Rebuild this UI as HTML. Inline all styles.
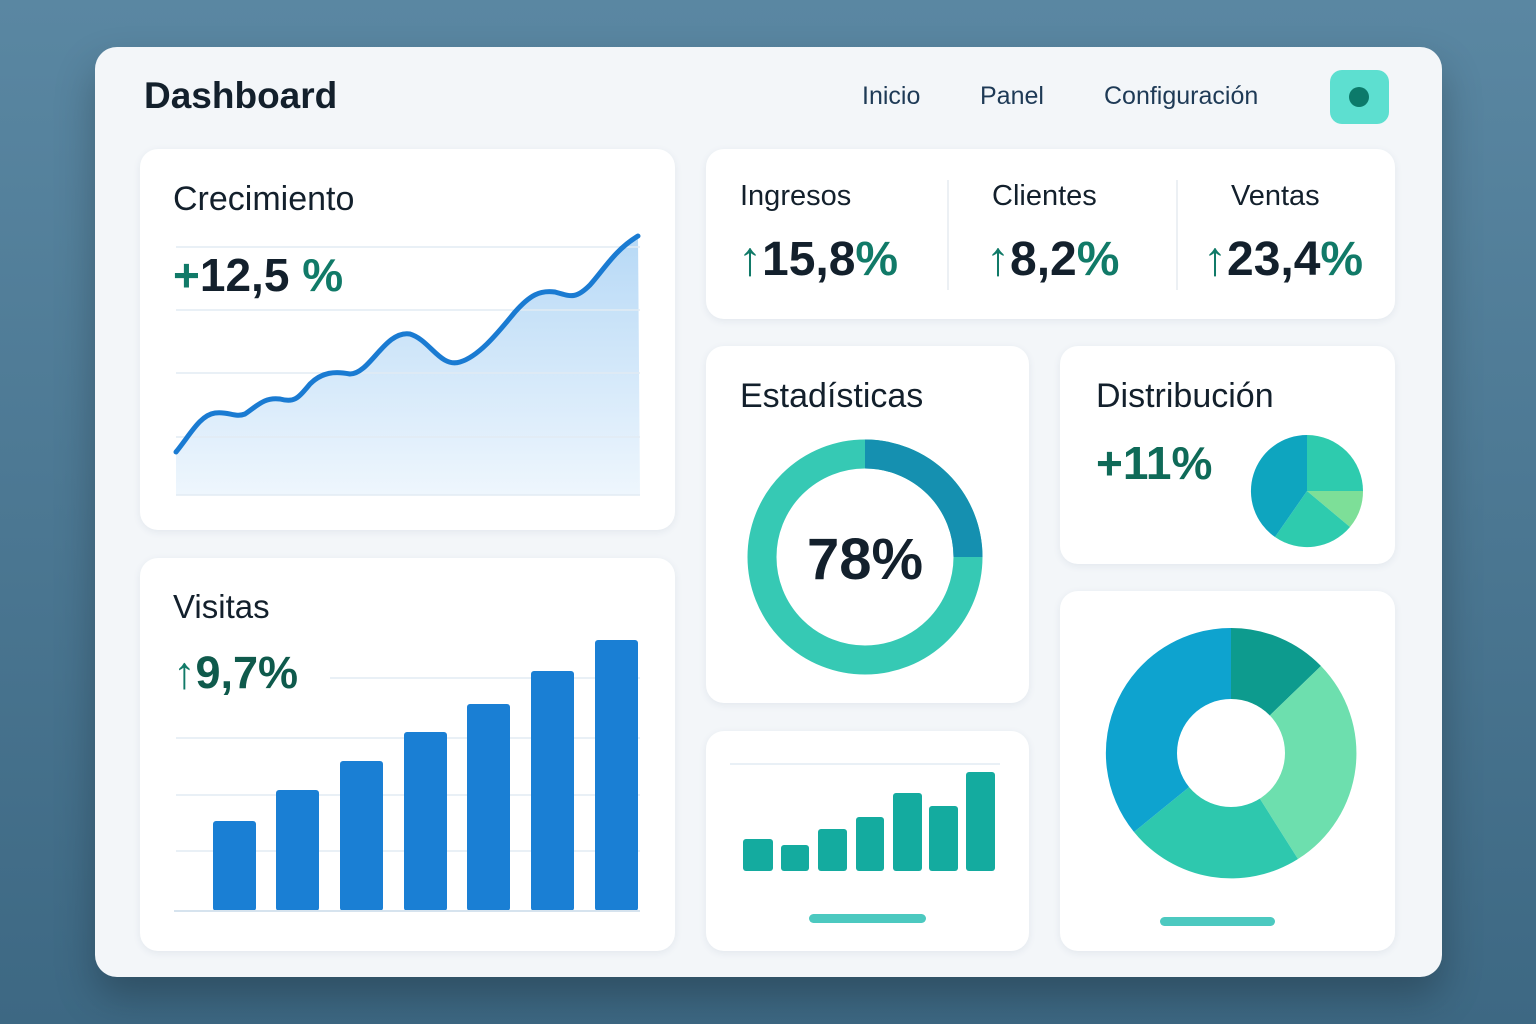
<!DOCTYPE html>
<html><head><meta charset="utf-8"><style>
body{margin:0;width:1536px;height:1024px;overflow:hidden;background:linear-gradient(180deg,#5a87a2,#3d6883);font-family:"Liberation Sans",sans-serif;position:relative}
.p{position:absolute;left:95px;top:47px;width:1347px;height:930px;background:#f3f6f9;border-radius:22px;box-shadow:0 20px 40px rgba(0,0,0,.25)}
.c{position:absolute;background:#fff;border-radius:18px;box-shadow:0 2px 8px rgba(40,70,100,.08)}
.t{position:absolute;color:#13202c;white-space:nowrap}
.g{color:#117a68}
svg{position:absolute;left:0;top:0}
</style></head><body>
<div class="p"></div>
<div class="t" style="left:144px;top:75px;font-size:37px;font-weight:bold">Dashboard</div>
<div class="t" style="left:862px;top:82px;font-size:25px;color:#1e3a56">Inicio</div>
<div class="t" style="left:980px;top:82px;font-size:25px;color:#1e3a56">Panel</div>
<div class="t" style="left:1104px;top:82px;font-size:25px;color:#1e3a56">Configuración</div>
<div style="position:absolute;left:1330px;top:70px;width:59px;height:54px;border-radius:12px;background:#5ddfd0"></div>
<div style="position:absolute;left:1349px;top:87px;width:20px;height:20px;border-radius:50%;background:#0c7a6a"></div>

<div class="c" style="left:140px;top:149px;width:535px;height:381px"></div>
<div class="c" style="left:140px;top:558px;width:535px;height:393px"></div>
<div class="c" style="left:706px;top:149px;width:689px;height:170px"></div>
<div class="c" style="left:706px;top:346px;width:323px;height:357px"></div>
<div class="c" style="left:1060px;top:346px;width:335px;height:218px"></div>
<div class="c" style="left:706px;top:731px;width:323px;height:220px"></div>
<div class="c" style="left:1060px;top:591px;width:335px;height:360px"></div>

<svg width="1536" height="1024">
<defs><linearGradient id="a" x1="0" y1="0" x2="0" y2="1"><stop offset="0" stop-color="#b7d9f6"/><stop offset="1" stop-color="#eef6fd"/></linearGradient></defs>
<path d="M176,452 C190,435 200,415 215,413 C228,411 235,418 245,414 C258,405 265,397 280,399 C295,403 298,398 310,384 C322,372 335,371 350,374 C370,374 385,330 410,334 C430,340 440,368 460,362 C480,356 500,330 515,312 C530,295 540,290 555,292 C570,296 575,300 590,285 C605,268 615,250 638,236 L640,495 L176,495Z" fill="url(#a)"/>
<g stroke="#e2ebf3" stroke-width="1.5">
<line x1="176" y1="247" x2="640" y2="247"/><line x1="176" y1="310" x2="640" y2="310"/><line x1="176" y1="373" x2="640" y2="373"/><line x1="176" y1="437" x2="640" y2="437"/><line x1="176" y1="495" x2="640" y2="495"/>
<line x1="330" y1="678" x2="640" y2="678"/><line x1="176" y1="738" x2="640" y2="738"/><line x1="176" y1="795" x2="640" y2="795"/><line x1="176" y1="851" x2="640" y2="851"/>
<line x1="730" y1="764" x2="1000" y2="764"/>
</g>
<path d="M176,452 C190,435 200,415 215,413 C228,411 235,418 245,414 C258,405 265,397 280,399 C295,403 298,398 310,384 C322,372 335,371 350,374 C370,374 385,330 410,334 C430,340 440,368 460,362 C480,356 500,330 515,312 C530,295 540,290 555,292 C570,296 575,300 590,285 C605,268 615,250 638,236" fill="none" stroke="#1a7bd2" stroke-width="5" stroke-linecap="round"/>
<g fill="#1a7fd4">
<rect x="213" y="821" width="43" height="90" rx="3"/><rect x="276" y="790" width="43" height="121" rx="3"/><rect x="340" y="761" width="43" height="150" rx="3"/><rect x="404" y="732" width="43" height="179" rx="3"/><rect x="467" y="704" width="43" height="207" rx="3"/><rect x="531" y="671" width="43" height="240" rx="3"/><rect x="595" y="640" width="43" height="271" rx="3"/>
</g>
<line x1="174" y1="911" x2="640" y2="911" stroke="#d6e3ee" stroke-width="2"/>
<line x1="948" y1="180" x2="948" y2="290" stroke="#e6ebf0" stroke-width="1.5"/>
<line x1="1177" y1="180" x2="1177" y2="290" stroke="#e6ebf0" stroke-width="1.5"/>
<circle cx="865" cy="557" r="103" fill="none" stroke="#36c9b4" stroke-width="29"/>
<path d="M865,454 A103,103 0 0 1 968,557" fill="none" stroke="#1590b0" stroke-width="29"/>
<g fill="#14ab9f">
<rect x="743" y="839" width="30" height="32" rx="3"/><rect x="781" y="845" width="28" height="26" rx="3"/><rect x="818" y="829" width="29" height="42" rx="3"/><rect x="856" y="817" width="28" height="54" rx="3"/><rect x="893" y="793" width="29" height="78" rx="3"/><rect x="929" y="806" width="29" height="65" rx="3"/><rect x="966" y="772" width="29" height="99" rx="3"/>
</g>
<rect x="809" y="914" width="117" height="9" rx="4.5" fill="#4cc9c0"/>
<rect x="1160" y="917" width="115" height="9" rx="4.5" fill="#4cc9c0"/>
<path d="M1307,491 L1307,435 A56,56 0 0 1 1363,491Z" fill="#2ecbae"/>
<path d="M1307,491 L1363,491 A56,56 0 0 1 1350,527Z" fill="#7ddf98"/>
<path d="M1307,491 L1350,527 A56,56 0 0 1 1275,537Z" fill="#2ecbae"/>
<path d="M1307,491 L1275,537 A56,56 0 0 1 1307,435Z" fill="#0ea5bf"/>
<path d="M1231,753 L1231,628 A125,125 0 0 1 1321,666Z" fill="#0d9b8e"/>
<path d="M1231,753 L1321,666 A125,125 0 0 1 1298,859Z" fill="#6ddfae"/>
<path d="M1231,753 L1298,859 A125,125 0 0 1 1134,832Z" fill="#2ec8ae"/>
<path d="M1231,753 L1134,832 A125,125 0 0 1 1231,628Z" fill="#0ea3cf"/>
<circle cx="1231" cy="753" r="54" fill="#fff"/>
</svg>

<div class="t" style="left:173px;top:180px;font-size:34px">Crecimiento</div>
<div class="t" style="left:173px;top:248px;font-size:46px;font-weight:bold"><span class="g">+</span>12,5 <span class="g">%</span></div>
<div class="t" style="left:173px;top:588px;font-size:33px">Visitas</div>
<div class="t" style="left:173px;top:647px;font-size:45px;font-weight:bold;color:#0f5a4c"><span class="g">↑</span>9,7%</div>
<div class="t" style="left:740px;top:180px;font-size:29px">Ingresos</div>
<div class="t" style="left:992px;top:180px;font-size:29px">Clientes</div>
<div class="t" style="left:1231px;top:180px;font-size:29px">Ventas</div>
<div class="t" style="left:738px;top:232px;font-size:48px;font-weight:bold"><span class="g">↑</span>15,8<span class="g">%</span></div>
<div class="t" style="left:986px;top:232px;font-size:48px;font-weight:bold"><span class="g">↑</span>8,2<span class="g">%</span></div>
<div class="t" style="left:1203px;top:232px;font-size:48px;font-weight:bold"><span class="g">↑</span>23,4<span class="g">%</span></div>
<div class="t" style="left:740px;top:377px;font-size:34px">Estadísticas</div>
<div class="t" style="left:865px;top:526px;font-size:58px;font-weight:bold;transform:translateX(-50%)">78%</div>
<div class="t" style="left:1096px;top:377px;font-size:34px">Distribución</div>
<div class="t" style="left:1096px;top:436px;font-size:46px;font-weight:bold;color:#0f6a58">+11%</div>
</body></html>
